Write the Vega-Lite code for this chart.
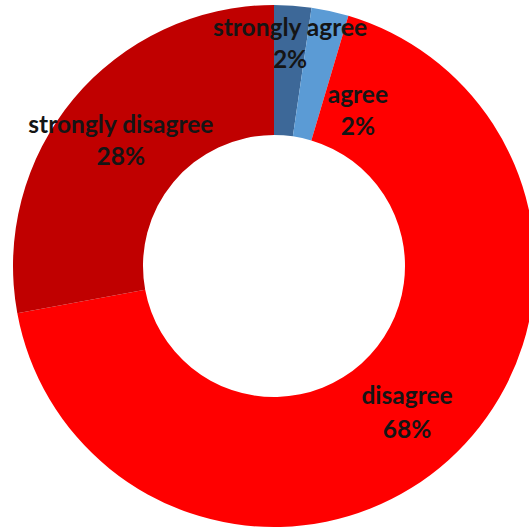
{
  "$schema": "https://vega.github.io/schema/vega-lite/v6.json",
  "width": 510,
  "height": 522,
  "autosize": "none",
  "padding": {"left": 19, "top": 5, "right": 0, "bottom": 4},
  "background": "white",
  "view": {"stroke": null},
  "data": {"values": [
    {"category": "strongly agree", "value": 2.3, "pct": "2%", "rank": 1},
    {"category": "agree", "value": 2.3, "pct": "2%", "rank": 2},
    {"category": "disagree", "value": 67.5, "pct": "68%", "rank": 3},
    {"category": "strongly disagree", "value": 27.9, "pct": "28%", "rank": 4}
  ]},
  "encoding": {
    "theta": {"field": "value", "type": "quantitative", "stack": true},
    "order": {"field": "rank", "type": "quantitative"}
  },
  "layer": [
    {
      "mark": {"type": "arc", "outerRadius": 261, "innerRadius": 131},
      "encoding": {
        "color": {"field": "category", "type": "nominal", "legend": null,
          "scale": {"domain": ["strongly agree", "agree", "disagree", "strongly disagree"],
                    "range": ["#3D6898", "#5B9BD5", "#FF0000", "#C00000"]}}
      }
    },
    {
      "mark": {"type": "text", "radius": 222, "dy": -16, "font": "Lato", "fontWeight": "bold", "fontSize": 24.5, "color": "#151515"},
      "encoding": {"text": {"condition": {"test": "datum.category === 'strongly agree'", "field": "category"}, "value": ""}}
    },
    {
      "mark": {"type": "text", "radius": 222, "dy": 16, "font": "Lato", "fontWeight": "bold", "fontSize": 24.5, "color": "#151515"},
      "encoding": {"text": {"condition": {"test": "datum.category === 'strongly agree'", "field": "pct"}, "value": ""}}
    },
    {
      "mark": {"type": "text", "radius": 175, "thetaOffset": 0.283, "dy": -16, "font": "Lato", "fontWeight": "bold", "fontSize": 24.5, "color": "#151515"},
      "encoding": {"text": {"condition": {"test": "datum.category === 'agree'", "field": "category"}, "value": ""}}
    },
    {
      "mark": {"type": "text", "radius": 175, "thetaOffset": 0.283, "dy": 16, "font": "Lato", "fontWeight": "bold", "fontSize": 24.5, "color": "#151515"},
      "encoding": {"text": {"condition": {"test": "datum.category === 'agree'", "field": "pct"}, "value": ""}}
    },
    {
      "mark": {"type": "text", "radius": 199, "dy": -17, "font": "Lato", "fontWeight": "bold", "fontSize": 24.5, "color": "#151515"},
      "encoding": {"text": {"condition": {"test": "datum.category === 'disagree'", "field": "category"}, "value": ""}}
    },
    {
      "mark": {"type": "text", "radius": 199, "dy": 17, "font": "Lato", "fontWeight": "bold", "fontSize": 24.5, "color": "#151515"},
      "encoding": {"text": {"condition": {"test": "datum.category === 'disagree'", "field": "pct"}, "value": ""}}
    },
    {
      "mark": {"type": "text", "radius": 197, "thetaOffset": -0.014, "dy": -16, "font": "Lato", "fontWeight": "bold", "fontSize": 24.5, "color": "#151515"},
      "encoding": {"text": {"condition": {"test": "datum.category === 'strongly disagree'", "field": "category"}, "value": ""}}
    },
    {
      "mark": {"type": "text", "radius": 197, "thetaOffset": -0.014, "dy": 16, "font": "Lato", "fontWeight": "bold", "fontSize": 24.5, "color": "#151515"},
      "encoding": {"text": {"condition": {"test": "datum.category === 'strongly disagree'", "field": "pct"}, "value": ""}}
    }
  ]
}
